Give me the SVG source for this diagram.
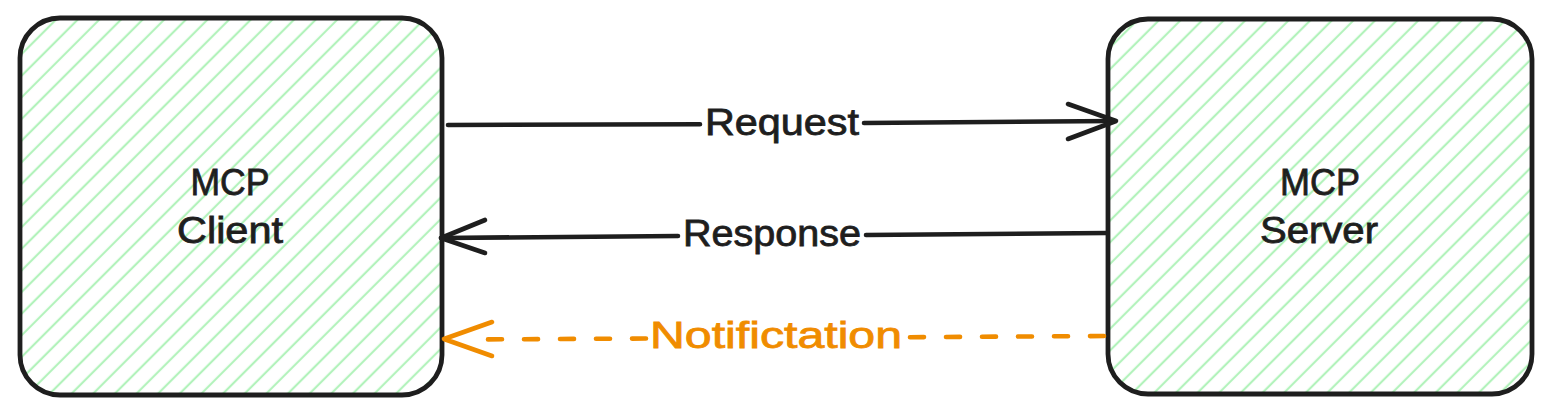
<svg xmlns="http://www.w3.org/2000/svg" width="1551" height="414" viewBox="0 0 1551 414">
  <defs>
    <pattern id="hachure" patternUnits="userSpaceOnUse" width="15.3" height="15.3" patternTransform="rotate(-45)">
      <line x1="0" y1="7.6" x2="15.3" y2="7.6" stroke="#b2f2bb" stroke-width="2.2"/>
    </pattern>
    <style>
      .box { fill: url(#hachure); stroke: #1e1e1e; stroke-width: 4.8; }
      .label { font-family: "Liberation Sans", Arial, sans-serif; font-size: 37px; fill: #1e1e1e; stroke: #1e1e1e; stroke-width: 0.8; text-anchor: middle; }
      .edge { fill: none; stroke: #1e1e1e; stroke-width: 4.6; stroke-linecap: round; stroke-linejoin: round; }
      .note { fill: none; stroke: #f08c00; stroke-width: 4.6; stroke-linecap: round; stroke-linejoin: round; }
      .dashed { stroke-dasharray: 14 22; }
      .elabel { font-family: "Liberation Sans", Arial, sans-serif; font-size: 37px; stroke-width: 0.8; text-anchor: middle; }
    </style>
  </defs>
  <rect width="1551" height="414" fill="#ffffff"/>

  <g id="mcp-client">
    <rect class="box" x="20" y="18" width="422" height="377" rx="40" ry="40"/>
    <text class="label" x="230" y="195" textLength="79" lengthAdjust="spacingAndGlyphs">MCP</text>
    <text class="label" x="230" y="243" textLength="106" lengthAdjust="spacingAndGlyphs">Client</text>
  </g>

  <g id="mcp-server">
    <rect class="box" x="1108" y="19" width="424" height="375" rx="40" ry="40"/>
    <text class="label" x="1320" y="195" textLength="80" lengthAdjust="spacingAndGlyphs">MCP</text>
    <text class="label" x="1319" y="243" textLength="118" lengthAdjust="spacingAndGlyphs">Server</text>
  </g>

  <g id="connectors">
    <g id="request">
      <path class="edge" d="M448 125 L700 124.2"/>
      <path class="edge" d="M864 123 L1114 121"/>
      <path class="edge" d="M1068 104 L1116 121 L1068 139"/>
      <text class="elabel" x="782" y="135" fill="#1e1e1e" stroke="#1e1e1e" textLength="154" lengthAdjust="spacingAndGlyphs">Request</text>
    </g>
    <g id="response">
      <path class="edge" d="M1107 233 L866 235"/>
      <path class="edge" d="M678 236 L441 238"/>
      <path class="edge" d="M485 220 L441 238 L485 253"/>
      <text class="elabel" x="772" y="246" fill="#1e1e1e" stroke="#1e1e1e" textLength="178" lengthAdjust="spacingAndGlyphs">Response</text>
    </g>
    <g id="notification">
      <path class="note dashed" d="M1104 336 L906 337.2"/>
      <path class="note dashed" d="M646 338.5 L470 339.5"/>
      <path class="note" d="M492 322 L444 339 L492 356"/>
      <text class="elabel" x="776" y="348" fill="#f08c00" stroke="#f08c00" textLength="252" lengthAdjust="spacingAndGlyphs">Notifictation</text>
    </g>
  </g>
</svg>
